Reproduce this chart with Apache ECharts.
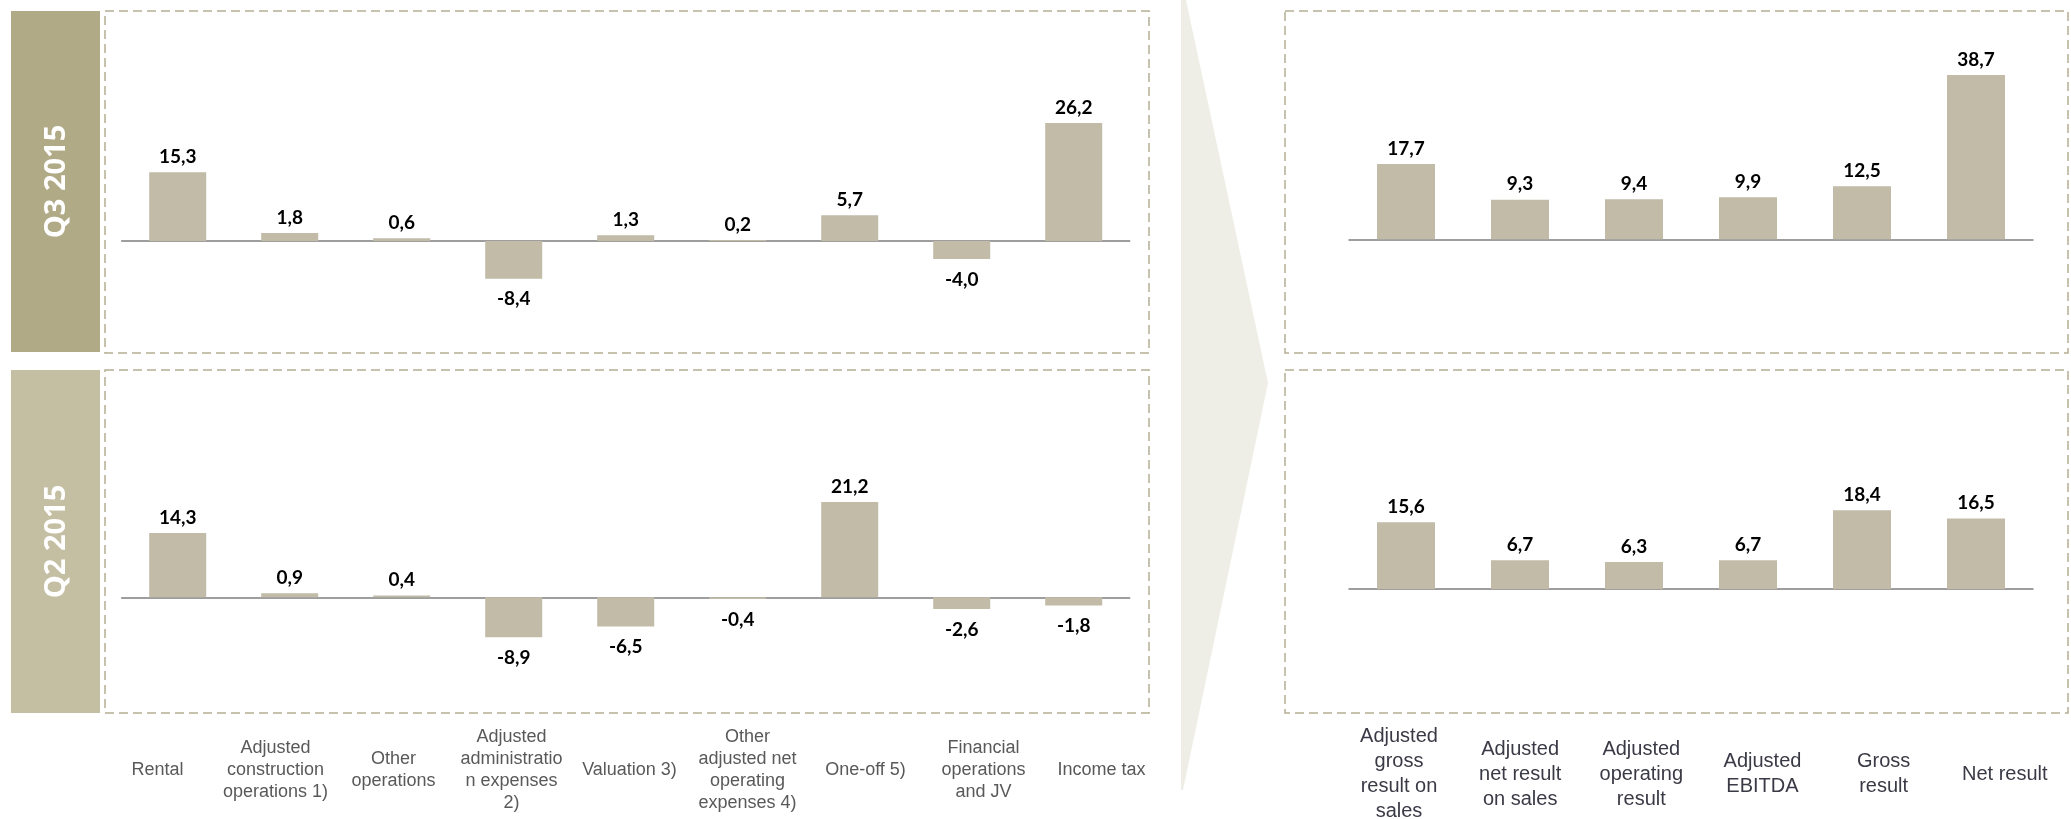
<!DOCTYPE html>
<html>
<head>
<meta charset="utf-8">
<script src="https://cdn.jsdelivr.net/npm/echarts@6/dist/echarts.min.js"></script>
<style>
  html, body { margin: 0; padding: 0; background: #ffffff; }
  #chart { width: 2071px; height: 819px; }
</style>
</head>
<body>
<div id="chart"></div>
<script>
// ---- data ----
const periods = ['Q3 2015', 'Q2 2015'];
const catsLeft = ['Rental', 'Adjusted\nconstruction\noperations 1)', 'Other\noperations',
  'Adjusted\nadministratio\nn expenses\n2)', 'Valuation 3)', 'Other\nadjusted net\noperating\nexpenses 4)',
  'One-off 5)', 'Financial\noperations\nand JV', 'Income tax'];
const catsRight = ['Adjusted\ngross\nresult on\nsales', 'Adjusted\nnet result\non sales',
  'Adjusted\noperating\nresult', 'Adjusted\nEBITDA', 'Gross\nresult', 'Net result'];
const q3Left = [15.3, 1.8, 0.6, -8.4, 1.3, 0.2, 5.7, -4.0, 26.2];
const q2Left = [14.3, 0.9, 0.4, -8.9, -6.5, -0.4, 21.2, -2.6, -1.8];
const q3Right = [17.7, 9.3, 9.4, 9.9, 12.5, 38.7];
const q2Right = [15.6, 6.7, 6.3, 6.7, 18.4, 16.5];

// ---- styles ----
const BAR = '#c1bba7';
const AXIS = '#7f7f7f';
const DASH = '#b5ae93';

const chart = echarts.init(document.getElementById('chart'), null, { renderer: 'canvas' });

function fmt(v) { return v.toFixed(1).replace('.', ','); }

function barData(arr) {
  return arr.map(v => ({
    value: v,
    label: { position: v >= 0 ? 'top' : 'bottom', distance: v >= 0 ? 6 : 11 }
  }));
}

const grids = [
  { left: 121.7, width: 1008, top: 16, height: 337.5 },     // Q3 left
  { left: 121.7, width: 1008, top: 372.3, height: 337.5 },  // Q2 left
  { left: 1349, width: 684, top: 27, height: 318.4 },       // Q3 right
  { left: 1349, width: 684, top: 375, height: 321 },        // Q2 right
  { left: 98.5, width: 1062, top: 769, height: 1 },         // left labels
  { left: 1338.4, width: 727, top: 774, height: 1 }         // right labels
];

function barXAxis(gi, cats) {
  return {
    type: 'category', gridIndex: gi, data: cats, boundaryGap: true,
    axisLine: { show: true, onZero: true, lineStyle: { color: AXIS, width: 1.5 } },
    axisTick: { show: false }, axisLabel: { show: false }, splitLine: { show: false }
  };
}
function barYAxis(gi) {
  return { type: 'value', gridIndex: gi, min: -25, max: 50, show: false, splitLine: { show: false } };
}

const labelCommon = {
  show: true, formatter: p => fmt(p.value), color: '#000000',
  fontFamily: 'Lato', fontWeight: 'bold', fontSize: 19
};

function barSeries(gi, arr, w) {
  return {
    type: 'bar', xAxisIndex: gi, yAxisIndex: gi, data: barData(arr), barWidth: w,
    itemStyle: { color: BAR }, label: labelCommon, silent: true
  };
}

function dashedBox(x, y, w, h) {
  return {
    type: 'rect', z: -5, shape: { x: x, y: y, width: w, height: h },
    style: { fill: 'none', stroke: DASH, lineWidth: 1.5, lineDash: [9, 5] }
  };
}
function periodBox(y, h, color, text) {
  return [
    { type: 'rect', z: -5, shape: { x: 11, y: y, width: 89, height: h }, style: { fill: color } },
    {
      type: 'text', z: 5, x: 57, y: y + h / 2, rotation: Math.PI / 2,
      style: {
        text: text, fill: '#ffffff', fontFamily: 'Open Sans', fontWeight: 'bold', fontSize: 29,
        textAlign: 'center', textVerticalAlign: 'middle', align: 'center', verticalAlign: 'middle'
      }
    }
  ];
}

const option = {
  backgroundColor: '#ffffff',
  animation: false,
  grid: grids,
  xAxis: [
    barXAxis(0, catsLeft), barXAxis(1, catsLeft), barXAxis(2, catsRight), barXAxis(3, catsRight),
    {
      type: 'category', gridIndex: 4, data: catsLeft, boundaryGap: true, position: 'bottom',
      axisLine: { show: false }, axisTick: { show: false },
      axisLabel: { interval: 0, margin: 0, verticalAlign: 'middle', lineHeight: 22, fontSize: 18,
        color: '#595959', fontFamily: 'Liberation Sans', align: 'center' }
    },
    {
      type: 'category', gridIndex: 5, data: catsRight, boundaryGap: true, position: 'bottom',
      axisLine: { show: false }, axisTick: { show: false },
      axisLabel: { interval: 0, margin: 0, verticalAlign: 'middle', lineHeight: 25, fontSize: 20,
        color: '#3a3a46', fontFamily: 'Liberation Sans', align: 'center' }
    }
  ],
  yAxis: [
    barYAxis(0), barYAxis(1), barYAxis(2), barYAxis(3),
    { type: 'value', gridIndex: 4, show: false, min: 0, max: 1 },
    { type: 'value', gridIndex: 5, show: false, min: 0, max: 1 }
  ],
  series: [
    barSeries(0, q3Left, 57),
    barSeries(1, q2Left, 57),
    barSeries(2, q3Right, 58),
    barSeries(3, q2Right, 58)
  ],
  graphic: [
    {
      type: 'polygon', z: -10,
      shape: { points: [[1181, 0], [1186, 0], [1268, 383], [1183, 790], [1181, 790]] },
      style: { fill: '#efeee6' }
    },
    dashedBox(105, 11, 1044, 342),
    dashedBox(105, 370, 1044, 343),
    dashedBox(1285, 11, 783, 342),
    dashedBox(1285, 370, 783, 343),
    ...periodBox(11, 341, '#b1aa87', periods[0]),
    ...periodBox(370, 343, '#c4bea3', periods[1])
  ]
};

chart.setOption(option);
</script>
</body>
</html>
